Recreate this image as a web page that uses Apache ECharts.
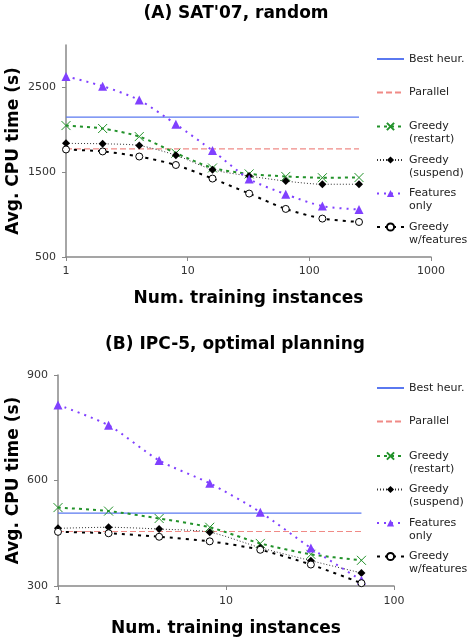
<!DOCTYPE html>
<html>
<head>
<meta charset="utf-8">
<script src="https://cdn.jsdelivr.net/npm/echarts@6/dist/echarts.min.js"></script>
<style>
  html, body { margin: 0; padding: 0; background: #fff; }
  #main { width: 471px; height: 638px; }
</style>
</head>
<body>
<div id="main"></div>
<script>
// (A) SAT'07, random
var xA = [1, 2, 4, 8, 16, 32, 64, 128, 256]
var bestA = 2150
var parallelA = 1775
var restartA = [2050, 2015, 1920, 1725, 1550, 1480, 1450, 1435, 1437]
var suspendA = [1840, 1835, 1815, 1700, 1530, 1455, 1395, 1358, 1358]
var featuresA = [2630, 2515, 2350, 2065, 1755, 1420, 1240, 1100, 1060]
var withFeatA = [1768, 1745, 1685, 1585, 1425, 1248, 1067, 953, 913]

// (B) IPC-5, optimal planning
var xB = [1, 2, 4, 8, 16, 32, 64]
var bestB = 507
var parallelB = 455
var restartB = [523, 513, 492, 467, 421, 390, 373]
var suspendB = [464, 467, 462, 453, 409, 372, 337]
var featuresB = [815, 757, 657, 592, 510, 408, 316]
var withFeatB = [454, 450, 440, 427, 403, 361, 308]

var yTicksA = [500, 1500, 2500]
var names = ['Best heur.', 'Parallel', 'Greedy\n(restart)', 'Greedy\n(suspend)', 'Features\nonly', 'Greedy\nw/features']

var FONT = 'DejaVu Sans'

function pairs(xs, ys) {
  return xs.map(function(x, i) { return [x, ys[i]] })
}

function flat(xs, v) {
  return [[xs[0], v], [xs[xs.length - 1], v]]
}

// one set of 6 series for one grid
function makeSeries(idx, xs, best, par, restart, suspend, feat, withFeat) {
  return [
    {
      name: names[0], type: 'line', xAxisIndex: idx, yAxisIndex: idx,
      data: flat(xs, best), symbol: 'none',
      itemStyle: { color: '#5a78f0' },
      lineStyle: { color: '#5a78f0', width: 1.2, type: 'solid' }
    },
    {
      name: names[1], type: 'line', xAxisIndex: idx, yAxisIndex: idx,
      data: flat(xs, par), symbol: 'none',
      itemStyle: { color: '#f08a86' },
      lineStyle: { color: '#f08a86', width: 1.2, type: [6, 3] }
    },
    {
      name: names[2], type: 'line', xAxisIndex: idx, yAxisIndex: idx,
      data: pairs(xs, restart), smooth: 0.25,
      symbol: 'path://M0,0L10,10M10,0L0,10', symbolSize: 9,
      itemStyle: { color: 'rgba(0,0,0,0)', borderColor: '#22922a', borderWidth: 1 },
      lineStyle: { color: '#22922a', width: 2, type: [3, 4] }
    },
    {
      name: names[3], type: 'line', xAxisIndex: idx, yAxisIndex: idx,
      data: pairs(xs, suspend), smooth: 0.25,
      symbol: 'diamond', symbolSize: 8,
      itemStyle: { color: '#000' },
      lineStyle: { color: '#333', width: 1, type: [1, 2] }
    },
    {
      name: names[4], type: 'line', xAxisIndex: idx, yAxisIndex: idx,
      data: pairs(xs, feat), smooth: 0.25,
      symbol: 'triangle', symbolSize: 9,
      itemStyle: { color: '#8040ff' },
      lineStyle: { color: '#8040ff', width: 2, type: [2, 5] }
    },
    {
      name: names[5], type: 'line', xAxisIndex: idx, yAxisIndex: idx,
      data: pairs(xs, withFeat), smooth: 0.25,
      symbol: 'circle', symbolSize: 7,
      itemStyle: { color: '#fff', borderColor: '#000', borderWidth: 1 },
      lineStyle: { color: '#000', width: 2, type: [3, 5] }
    }
  ]
}

// legend: one component per entry; two-line names get a blank first line
// so the icon sits on the first real line
var LH = 13
function makeLegends(iconYs) {
  return names.map(function(n, i) {
    var twoLines = n.indexOf('\n') >= 0
    var lg = {
      data: [n],
      left: 376,
      top: iconYs[i] - (twoLines ? 19.5 : 6.5),
      orient: 'vertical',
      padding: 0,
      itemWidth: 27,
      itemHeight: 9,
      itemGap: 0,
      selectedMode: false,
      formatter: function(name) { return twoLines ? ' \n' + name : name },
      textStyle: { fontFamily: FONT, fontSize: 11, color: '#222', lineHeight: LH }
    }
    if (i < 2) lg.itemStyle = { opacity: 0 } // plain line, no marker
    return lg
  })
}

function plain(v) { return String(v) }

var axisLine = { show: true, lineStyle: { color: '#888', width: 1.5 } }
var labelStyle = { fontFamily: FONT, fontSize: 11, color: '#333', formatter: plain }
var nameStyle = { fontFamily: FONT, fontSize: 17, fontWeight: 'bold', color: '#000' }

var option = {
  animation: false,
  backgroundColor: '#fff',
  title: [
    { text: "(A) SAT'07, random", left: 231, textAlign: 'center', top: 0, textStyle: nameStyle },
    { text: '(B) IPC-5, optimal planning', left: 230, textAlign: 'center', top: 331, textStyle: nameStyle }
  ],
  legend: makeLegends([59, 92.5, 126.5, 160, 193.5, 227]).concat(makeLegends([388, 421.5, 456, 489.5, 523, 556.5])),
  grid: [
    { left: 66, top: 45, width: 365, height: 212, outerBoundsMode: 'none' },
    { left: 58, top: 375, width: 336, height: 211, outerBoundsMode: 'none' }
  ],
  xAxis: [
    {
      type: 'log', logBase: 10, min: 1, max: 1000, gridIndex: 0,
      name: 'Num. training instances', nameLocation: 'middle', nameGap: 33, nameTextStyle: nameStyle,
      nameMoveOverlap: false,
      axisLine: axisLine, axisTick: { show: true, length: 4, lineStyle: { color: '#888' } },
      axisLabel: Object.assign({ margin: 9 }, labelStyle), splitLine: { show: false }
    },
    {
      type: 'log', logBase: 10, min: 1, max: 100, gridIndex: 1,
      name: 'Num. training instances', nameLocation: 'middle', nameGap: 34, nameTextStyle: nameStyle,
      nameMoveOverlap: false,
      axisLine: axisLine, axisTick: { show: true, length: 4, lineStyle: { color: '#888' } },
      axisLabel: Object.assign({ margin: 10 }, labelStyle), splitLine: { show: false }
    }
  ],
  yAxis: [
    {
      type: 'value', min: 500, max: 3000, interval: 1000, gridIndex: 0,
      name: 'Avg. CPU time (s)', nameLocation: 'middle', nameGap: 44, nameTextStyle: nameStyle,
      nameMoveOverlap: false,
      axisLine: axisLine,
      axisTick: { show: true, length: 4, customValues: yTicksA, lineStyle: { color: '#888' } },
      axisLabel: Object.assign({ margin: 10, customValues: yTicksA }, labelStyle),
      splitLine: { show: false }
    },
    {
      type: 'value', min: 300, max: 900, interval: 300, gridIndex: 1,
      name: 'Avg. CPU time (s)', nameLocation: 'middle', nameGap: 36, nameTextStyle: nameStyle,
      nameMoveOverlap: false,
      axisLine: axisLine,
      axisTick: { show: true, length: 4, lineStyle: { color: '#888' } },
      axisLabel: Object.assign({ margin: 10 }, labelStyle),
      splitLine: { show: false }
    }
  ],
  series: makeSeries(0, xA, bestA, parallelA, restartA, suspendA, featuresA, withFeatA)
    .concat(makeSeries(1, xB, bestB, parallelB, restartB, suspendB, featuresB, withFeatB))
}

var myChart = echarts.init(document.getElementById('main'))
myChart.setOption(option)
</script>
</body>
</html>
